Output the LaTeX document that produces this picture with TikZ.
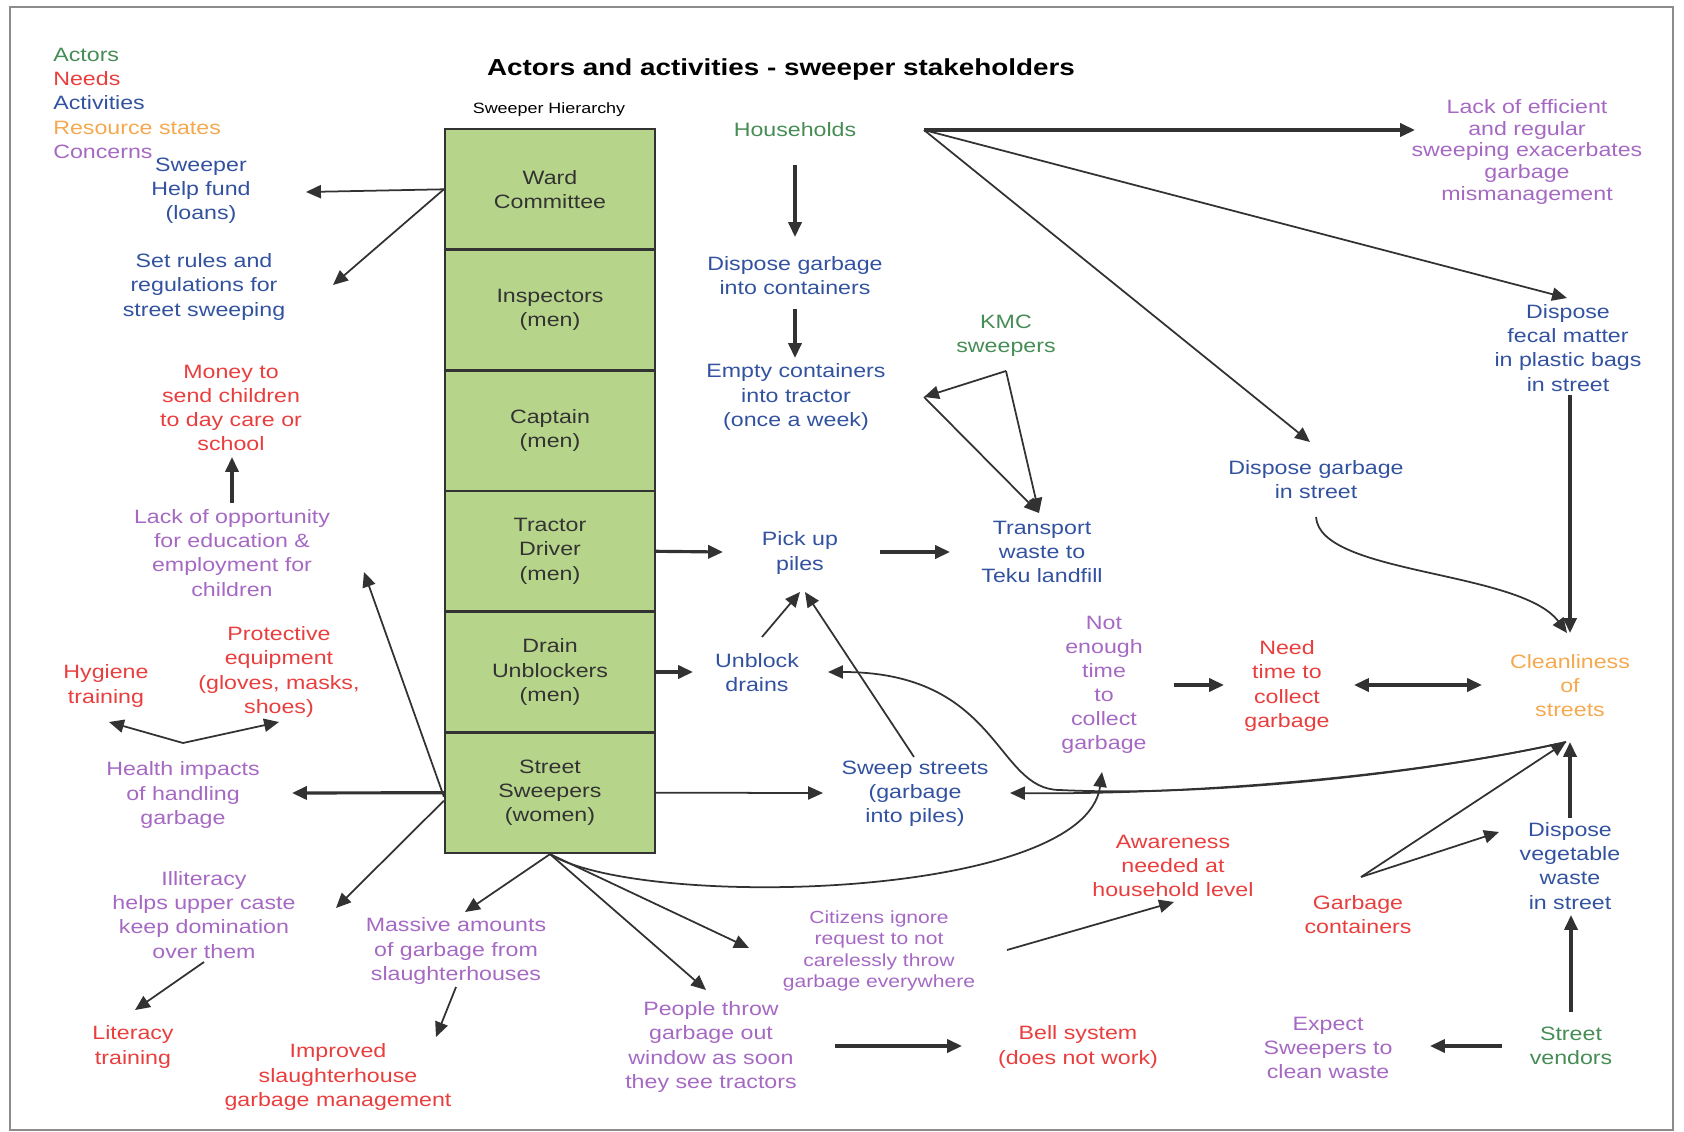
\documentclass[tikz,border=0pt]{standalone}
\usepackage{fontspec}
\setmainfont{Liberation Sans}[FakeStretch=1.2]
\usetikzlibrary{arrows.meta,calc}

\definecolor{actor}{RGB}{70,140,85}
\definecolor{need}{RGB}{232,62,62}
\definecolor{activity}{RGB}{50,82,160}
\definecolor{resource}{RGB}{245,168,78}
\definecolor{concern}{RGB}{165,105,195}
\definecolor{cellgreen}{RGB}{183,213,138}
\definecolor{linegray}{RGB}{50,50,50}

\tikzset{
  txt/.style={align=center, inner sep=1pt, font=\fontsize{11}{13.7}\selectfont},
  cell/.style={draw=black!80, line width=1.3pt, fill=cellgreen, text=black!80,
    minimum width=4.2cm, minimum height=2.413cm, align=center,
    font=\fontsize{11}{13.7}\selectfont},
  arr/.style={draw=linegray, line width=1pt, -{Triangle[length=8.5pt,width=7.5pt]}},
  arrthick/.style={arr, line width=1.8pt},
  arrboth/.style={arrthick, {Triangle[length=8.5pt,width=7.5pt]}-{Triangle[length=8.5pt,width=7.5pt]}},
}

\begin{document}
\begin{tikzpicture}[x=0.02cm, y=-0.02cm]

        \useasboundingbox (0,0) rectangle (1684,1132);
        \draw[black!45, line width=0.8pt] (10,7) rectangle (1673,1130);

        % legend
        \begin{scope}[every node/.style={txt, anchor=west, inner sep=0pt}]
          \node[text=actor]    (legact) at (53,55)  {Actors};
          \node[text=need]     (legneed) at (53,79)  {Needs};
          \node[text=activity] (legact2) at (53,103) {Activities};
          \node[text=resource] (legres) at (53,128) {Resource states};
          \node[text=concern]  (legcon) at (53,152) {Concerns};
        \end{scope}

        \node[font=\bfseries\fontsize{13.2}{15}\selectfont] (title) at (781,70) {Actors and activities - sweeper stakeholders};
        \node[font=\fontsize{8.5}{10}\selectfont] (hier) at (549,110) {Sweeper Hierarchy};

        \begin{scope}[every node/.style={cell}]
          \node (ward)   at (550,189.3) {Ward\\Committee};
          \node (insp)   at (550,310)   {Inspectors\\(men)};
          \node (capt)   at (550,430.7) {Captain\\(men)};
          \node (tract)  at (550,551.3) {Tractor\\Driver\\(men)};
          \node (drain)  at (550,672)   {Drain\\Unblockers\\(men)};
          \node (street) at (550,792.7) {Street\\Sweepers\\(women)};
        \end{scope}

        \begin{scope}[every node/.style={txt, text=activity}]
          \node (help)    at (201,191)  {Sweeper\\Help fund\\(loans)};
          \node (rules)   at (204,287)  {Set rules and\\regulations for\\street sweeping};
          \node (dcont)   at (795,276)  {Dispose garbage\\into containers};
          \node (empty)   at (796,397)  {Empty containers\\into tractor\\(once a week)};
          \node (pickup)  at (800,553)  {Pick up\\piles};
          \node (transp)  at (1042,552) {Transport\\waste to\\Teku landfill};
          \node (unblock) at (757,673)  {Unblock\\drains};
          \node (sweep)   at (915,794)  {Sweep streets\\(garbage\\into piles)};
          \node (dstreet) at (1316,480) {Dispose garbage\\in street};
          \node (fecal)   at (1568,348) {Dispose\\fecal matter\\in plastic bags\\in street};
          \node (veget)   at (1570,866) {Dispose\\vegetable\\waste\\in street};
        \end{scope}

        \begin{scope}[every node/.style={txt, text=need}]
          \node (money)     at (231,408)  {Money to\\send children\\to day care or\\school};
          \node (protect)   at (279,672)  {Protective\\equipment\\(gloves, masks,\\shoes)};
          \node (hygiene)   at (106,686)  {Hygiene\\training};
          \node (literacy)  at (133,1047) {Literacy\\training};
          \node (improved)  at (338,1077) {Improved\\slaughterhouse\\garbage management};
          \node (bell)      at (1078,1047) {Bell system\\(does not work)};
          \node (awareness) at (1173,866) {Awareness\\needed at\\household level};
          \node (needtime)  at (1287,686) {Need\\time to\\collect\\garbage};
          \node (gcont)     at (1358,915) {Garbage\\containers};
        \end{scope}

        \begin{scope}[every node/.style={txt, text=concern}]
          \node (lackopp)   at (232,553)  {Lack of opportunity\\for education \&\\employment for\\children};
          \node (health)    at (183,795)  {Health impacts\\of handling\\garbage};
          \node (illit)     at (204,915)  {Illiteracy\\helps upper caste\\keep domination\\over them};
          \node (massive)   at (456,951)  {Massive amounts\\of garbage from\\slaughterhouses};
          \node (people)    at (711,1047) {People throw\\garbage out\\window as soon\\they see tractors};
          \node[font=\fontsize{10}{12.3}\selectfont] (citizens) at (879,951) {Citizens ignore\\request to not\\carelessly throw\\garbage everywhere};
          \node (notenough) at (1104,685) {Not\\enough\\time\\to\\collect\\garbage};
          \node[font=\fontsize{11}{12.3}\selectfont] (lackeff) at (1527,152) {Lack of efficient\\and regular\\sweeping exacerbates\\garbage\\mismanagement};
          \node (expect)    at (1328,1048) {Expect\\Sweepers to\\clean waste};
        \end{scope}

        \begin{scope}[every node/.style={txt, text=actor}]
          \node (house)   at (795,130)  {Households};
          \node (kmc)     at (1006,336) {KMC\\sweepers};
          \node (vendors) at (1571,1046) {Street\\vendors};
        \end{scope}

        \node[txt, text=resource] (clean) at (1570,686) {Cleanliness\\of\\streets};

        \begin{scope}[every edge/.style={arr}]
          \path (ward.west) edge ($(help)+(105,1)$);
          \path (ward.west) edge ($(rules)+(129,-2)$);
          \path ($(lackopp)+(0,-50)$) edge[arrthick] ($(money)+(1,49)$);
          \path ($(street.west)+(0,4)$) edge ($(lackopp)+(132,19)$);
          \path ($(health)+(0,-52)$) edge ($(hygiene)+(3,36)$);
          \path ($(health)+(0,-52)$) edge ($(protect)+(0,50)$);
          \path (street.west) edge[arrthick] ($(health)+(109,-2)$);
          \path ($(street.west)+(0,8)$) edge ($(illit)+(132,-7)$);
          \path ($(illit)+(0,47)$) edge ($(literacy)+(2,-37)$);
          \path (street.south) edge ($(massive)+(9,-39)$);
          \path ($(massive)+(0,36)$) edge ($(improved)+(98,-40)$);
          \path (street.south) edge ($(people)+(-5,-57)$);
          \path (street.south) edge ($(citizens)+(-130,-3)$);
          \path ($(people)+(124,-1)$) edge[arrthick] ($(bell)+(-116,-1)$);
          \path ($(citizens)+(128,-1)$) edge ($(awareness)+(1,36)$);
          \path ($(vendors)+(-69,0)$) edge[arrthick] ($(expect)+(102,-2)$);
          \path ($(vendors)+(0,-34)$) edge[arrthick] ($(veget)+(1,49)$);
          \path ($(gcont)+(3,-38)$) edge ($(veget)+(-71,-34)$);
          \path ($(gcont)+(3,-38)$) edge ($(clean)+(-4,56)$);
          \path ($(veget)+(0,-48)$) edge[arrthick] ($(clean)+(0,56)$);
          \path ($(fecal)+(2,47)$) edge[arrthick] ($(clean)+(0,-53)$);
          \path ($(house)+(129,0)$) edge[arrthick] ($(lackeff)+(-112,-22)$);
          \path ($(house)+(129,0)$) edge ($(fecal)+(-1,-50)$);
          \path ($(house)+(129,0)$) edge ($(dstreet)+(-6,-38)$);
          \path ($(house)+(0,35)$) edge[arrthick] ($(dcont)+(0,-39)$);
          \path ($(dcont)+(0,33)$) edge[arrthick] ($(empty)+(-1,-39)$);
          \path ($(kmc)+(0,35)$) edge ($(empty)+(128,0)$);
          \path ($(kmc)+(0,35)$) edge ($(transp)+(-3,-39)$);
          \path ($(empty)+(128,0)$) edge ($(transp)+(-3,-39)$);
          \path (tract.east) edge[arrthick] ($(pickup)+(-77,-1)$);
          \path ($(pickup)+(80,-1)$) edge[arrthick] ($(transp)+(-92,0)$);
          \path (drain.east) edge[arrthick] ($(unblock)+(-64,-1)$);
          \path ($(unblock)+(5,-36)$) edge ($(pickup)+(0,39)$);
          \path ($(sweep)+(-1,-37)$) edge ($(pickup)+(5,39)$);
          \path (street.east) edge ($(sweep)+(-92,-1)$);
          \path ($(notenough)+(70,0)$) edge[arrthick] ($(needtime)+(-63,-1)$);
          \path ($(needtime)+(67,-1)$) edge[arrboth] ($(clean)+(-88,-1)$);
        \end{scope}

        % curved links
        \draw[arr] (street.south) .. controls (640,910) and (1085,900) .. ($(notenough)+(-2,87)$);
        \draw[arr] ($(clean)+(-4,56)$) .. controls (1420,775) and (1200,795) .. ($(sweep)+(95,-1)$);
        \draw[arr] ($(clean)+(-4,56)$) .. controls (1420,775) and (1200,797) .. (1060,790)
                   .. controls (995,790) and (1000,672) .. ($(unblock)+(71,-1)$);
        \draw[arr] ($(dstreet)+(0,37)$) .. controls (1320,575) and (1520,570) .. ($(clean)+(-3,-53)$);

      \end{tikzpicture}
\end{document}
